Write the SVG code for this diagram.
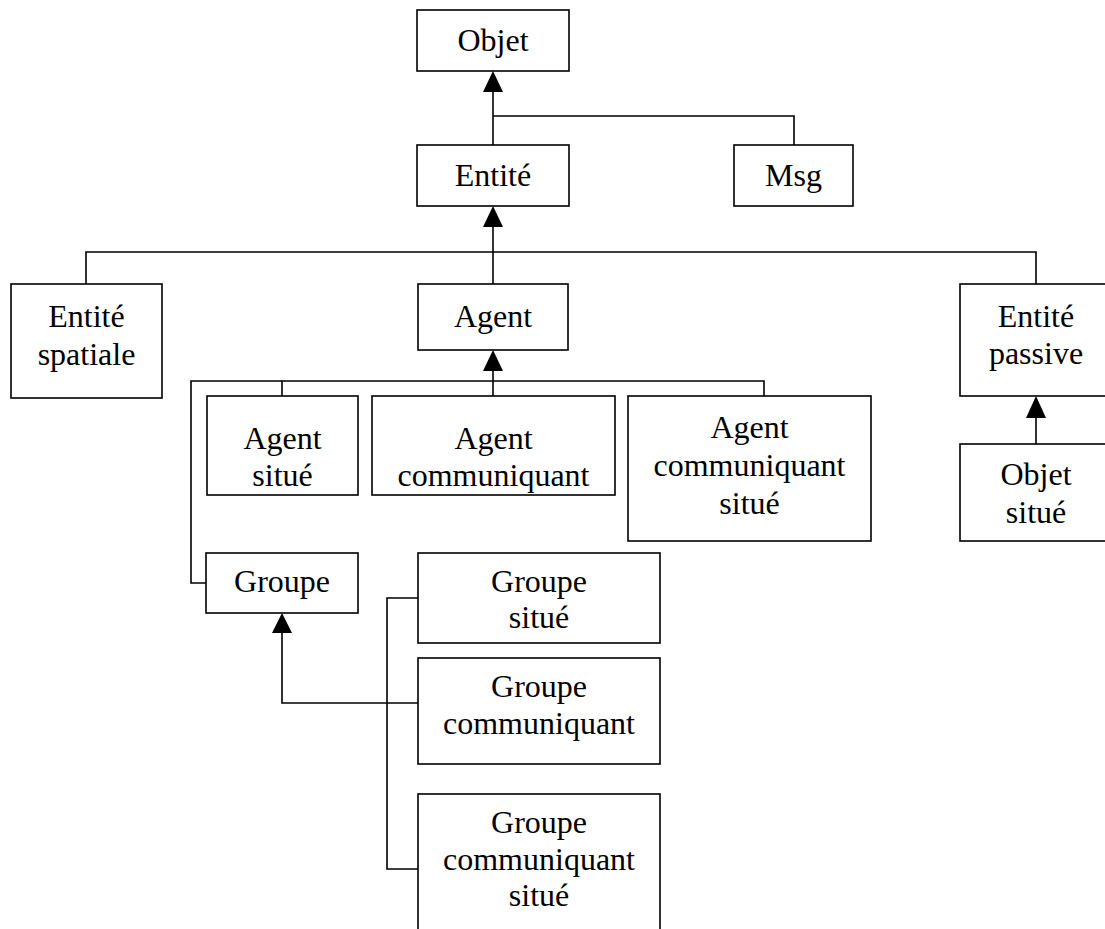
<svg xmlns="http://www.w3.org/2000/svg" width="1105" height="929" viewBox="0 0 1105 929">
  <style>
    .box { fill: #ffffff; stroke: #000000; stroke-width: 1.6; }
    .lbl { font-family: "Liberation Serif", "Times New Roman", serif; font-size: 32px; fill: #000000; text-anchor: middle; }
    .wire { fill: none; stroke: #000000; stroke-width: 1.6; }
  </style>
  <defs>
    <marker id="tri" viewBox="0 0 20 22" refX="10" refY="0" markerWidth="20" markerHeight="22" markerUnits="userSpaceOnUse" orient="auto-start-reverse">
      <path d="M0,22 L10,0 L20,22 Z" fill="#000000"/>
    </marker>
  </defs>
  <rect width="1105" height="929" fill="#ffffff"/>

  <!-- inheritance connectors -->
  <g id="connectors">
    <line class="wire" x1="493" y1="145" x2="493" y2="92"/>
    <path d="M483,92 L493,71 L503,92 Z"/>
    <polyline class="wire" points="493,116 794,116 794,145"/>

    <line class="wire" x1="493" y1="284" x2="493" y2="227"/>
    <path d="M483,227 L493,206 L503,227 Z"/>
    <polyline class="wire" points="86,284 86,252 1036,252 1036,284"/>

    <line class="wire" x1="493" y1="396" x2="493" y2="371"/>
    <path d="M483,371 L493,350 L503,371 Z"/>
    <polyline class="wire" points="282,396 282,381 764,381 764,396"/>
    <polyline class="wire" points="282,381 191,381 191,583 206,583"/>

    <line class="wire" x1="1036" y1="444" x2="1036" y2="418"/>
    <path d="M1026,418 L1036,396 L1046,418 Z"/>

    <polyline class="wire" points="418,703 282,703 282,633"/>
    <path d="M272,633 L282,613 L292,633 Z"/>
    <polyline class="wire" points="418,598 387,598 387,869 418,869"/>
  </g>

  <g id="objet">
    <rect class="box" x="417" y="10" width="152" height="61"/>
    <text class="lbl" x="493" y="51">Objet</text>
  </g>
  <g id="entite">
    <rect class="box" x="417" y="145" width="152" height="61"/>
    <text class="lbl" x="493" y="186">Entité</text>
  </g>
  <g id="msg">
    <rect class="box" x="734" y="145" width="119" height="61"/>
    <text class="lbl" x="793.5" y="186">Msg</text>
  </g>
  <g id="entite-spatiale">
    <rect class="box" x="11" y="284" width="151" height="114"/>
    <text class="lbl" x="86.5" y="327">Entité</text>
    <text class="lbl" x="86.5" y="365">spatiale</text>
  </g>
  <g id="agent">
    <rect class="box" x="418" y="284" width="150" height="66"/>
    <text class="lbl" x="493" y="327">Agent</text>
  </g>
  <g id="entite-passive">
    <rect class="box" x="960" y="284" width="152" height="112"/>
    <text class="lbl" x="1036" y="327">Entité</text>
    <text class="lbl" x="1036" y="364">passive</text>
  </g>
  <g id="agent-situe">
    <rect class="box" x="207" y="396" width="151" height="99"/>
    <text class="lbl" x="282.5" y="449">Agent</text>
    <text class="lbl" x="282.5" y="486">situé</text>
  </g>
  <g id="agent-communiquant">
    <rect class="box" x="372" y="396" width="243" height="99"/>
    <text class="lbl" x="493.5" y="449">Agent</text>
    <text class="lbl" x="493.5" y="486">communiquant</text>
  </g>
  <g id="agent-communiquant-situe">
    <rect class="box" x="628" y="396" width="243" height="145"/>
    <text class="lbl" x="749.5" y="438">Agent</text>
    <text class="lbl" x="749.5" y="476">communiquant</text>
    <text class="lbl" x="749.5" y="514">situé</text>
  </g>
  <g id="objet-situe">
    <rect class="box" x="960" y="444" width="152" height="97"/>
    <text class="lbl" x="1036" y="485">Objet</text>
    <text class="lbl" x="1036" y="523">situé</text>
  </g>
  <g id="groupe">
    <rect class="box" x="206" y="553" width="152" height="60"/>
    <text class="lbl" x="282" y="592">Groupe</text>
  </g>
  <g id="groupe-situe">
    <rect class="box" x="418" y="553" width="242" height="90"/>
    <text class="lbl" x="539" y="592">Groupe</text>
    <text class="lbl" x="539" y="628">situé</text>
  </g>
  <g id="groupe-communiquant">
    <rect class="box" x="418" y="658" width="242" height="106"/>
    <text class="lbl" x="539" y="697">Groupe</text>
    <text class="lbl" x="539" y="734">communiquant</text>
  </g>
  <g id="groupe-communiquant-situe">
    <rect class="box" x="418" y="794" width="242" height="145"/>
    <text class="lbl" x="539" y="833">Groupe</text>
    <text class="lbl" x="539" y="870">communiquant</text>
    <text class="lbl" x="539" y="906">situé</text>
  </g>
</svg>
